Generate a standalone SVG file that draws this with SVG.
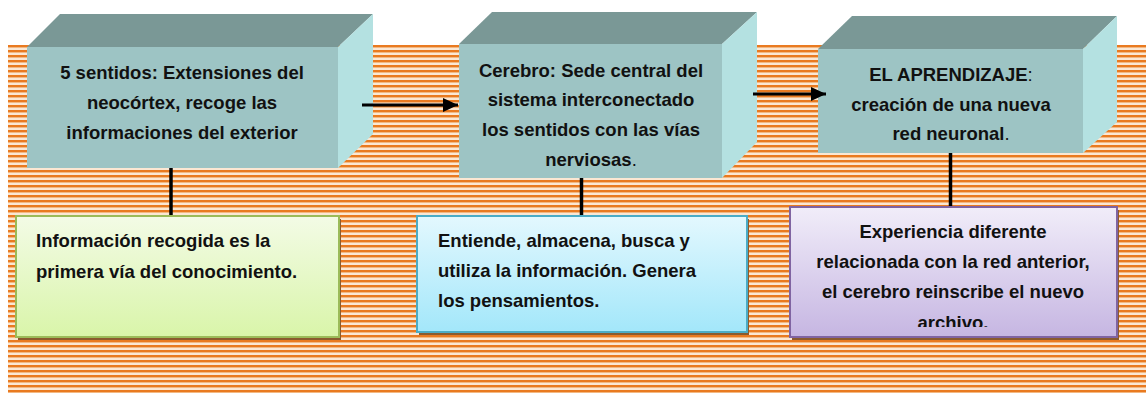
<svg xmlns="http://www.w3.org/2000/svg" width="1146" height="394" viewBox="0 0 1146 394">
<defs>
<pattern id="stripes" x="0" y="45" width="10" height="5" patternUnits="userSpaceOnUse">
<rect x="0" y="0" width="10" height="5" fill="#FBE7D3"/>
<rect x="0" y="0" width="10" height="2" fill="#E97A20"/>
<rect x="0" y="2" width="10" height="1" fill="#F3B882"/>
</pattern>
<linearGradient id="gGreen" x1="0" y1="0" x2="0" y2="1">
<stop offset="0" stop-color="#F3FBE6"/><stop offset="1" stop-color="#D9F5A9"/>
</linearGradient>
<linearGradient id="gBlue" x1="0" y1="0" x2="0" y2="1">
<stop offset="0" stop-color="#E3F8FE"/><stop offset="1" stop-color="#A3E7FA"/>
</linearGradient>
<linearGradient id="gPurple" x1="0" y1="0" x2="0" y2="1">
<stop offset="0" stop-color="#F1EDF9"/><stop offset="1" stop-color="#C6B6E2"/>
</linearGradient>
<marker id="arr" markerWidth="15" markerHeight="14" refX="15" refY="7" orient="auto" markerUnits="userSpaceOnUse" viewBox="0 0 15 14">
<path d="M0,0 L15,7 L0,14 Z" fill="#000"/>
</marker>
<clipPath id="clipP"><rect x="790" y="207" width="327" height="120"/></clipPath>
<style>
.front{fill:#9DC4C4;}
.top{fill:#7A9896;}
.side{fill:#B4E1E1;}
.t{font-family:"Liberation Sans",Arial,sans-serif;font-weight:bold;font-size:18.5px;fill:#111;}
.c{text-anchor:middle;}
.n{font-weight:normal;}
.shadow{fill:#8A5A2E;}
.conn{stroke:#000;stroke-width:3.5;fill:none;}
.arrow{stroke:#000;stroke-width:3;fill:none;}
</style>
</defs>
<rect x="8" y="45" width="1138" height="348" fill="url(#stripes)"/>

<g id="box1">
<polygon class="top" points="27,47 60,14 373,14 338,47"/>
<polygon class="side" points="338,47 373,14 373,134 338,168"/>
<rect class="front" x="27" y="47" width="311" height="121"/>
<text class="t c" x="182" y="79">5 sentidos: Extensiones del</text>
<text class="t c" x="182" y="109">neocórtex, recoge las</text>
<text class="t c" x="182" y="139">informaciones del exterior</text>
</g>

<g id="box2">
<polygon class="top" points="459,44 492,12 757,12 722,44"/>
<polygon class="side" points="722,44 757,12 757,142 722,178"/>
<rect class="front" x="459" y="44" width="263" height="134"/>
<text class="t c" x="591" y="77">Cerebro: Sede central del</text>
<text class="t c" x="591" y="106">sistema interconectado</text>
<text class="t c" x="591" y="136">los sentidos con las vías</text>
<text class="t c" x="591" y="166">nerviosas<tspan class="n">.</tspan></text>
</g>

<g id="box3">
<polygon class="top" points="818,49 852,16 1117,16 1083,49"/>
<polygon class="side" points="1083,49 1117,16 1117,122 1083,153"/>
<rect class="front" x="818" y="49" width="265" height="104"/>
<text class="t c" x="951" y="81">EL APRENDIZAJE<tspan class="n">:</tspan></text>
<text class="t c" x="951" y="111">creación de una nueva</text>
<text class="t c" x="951" y="140">red neuronal<tspan class="n">.</tspan></text>
</g>

<g id="note1">
<rect class="shadow" x="18" y="219" width="323" height="121"/>
<rect x="16" y="216" width="323" height="121" fill="url(#gGreen)" stroke="#9BBB59" stroke-width="2"/>
<text class="t" x="36" y="247">Información recogida es la</text>
<text class="t" x="36" y="278">primera vía del conocimiento.</text>
</g>

<g id="note2">
<rect class="shadow" x="419" y="219" width="330" height="116"/>
<rect x="417" y="216" width="330" height="116" fill="url(#gBlue)" stroke="#4BACC6" stroke-width="2"/>
<text class="t" x="438" y="247">Entiende, almacena, busca y</text>
<text class="t" x="438" y="277">utiliza la información. Genera</text>
<text class="t" x="438" y="307">los pensamientos.</text>
</g>

<g id="note3">
<rect class="shadow" x="792" y="210" width="327" height="130"/>
<rect x="790" y="207" width="327" height="130" fill="url(#gPurple)" stroke="#8064A2" stroke-width="2"/>
<g clip-path="url(#clipP)">
<text class="t c" x="953" y="238">Experiencia diferente</text>
<text class="t c" x="953" y="268">relacionada con la red anterior,</text>
<text class="t c" x="953" y="298">el cerebro reinscribe el nuevo</text>
<text class="t c" x="953" y="329">archivo.</text>
</g>
</g>

<g id="connectors">
<line class="arrow" x1="362" y1="105" x2="458" y2="105" marker-end="url(#arr)"/>
<line class="arrow" x1="753" y1="94" x2="826" y2="94" marker-end="url(#arr)"/>
<line class="conn" x1="171" y1="168" x2="171" y2="215"/>
<line class="conn" x1="581.5" y1="178" x2="581.5" y2="215"/>
<line class="conn" x1="950.5" y1="153" x2="950.5" y2="206"/>
</g>
</svg>
